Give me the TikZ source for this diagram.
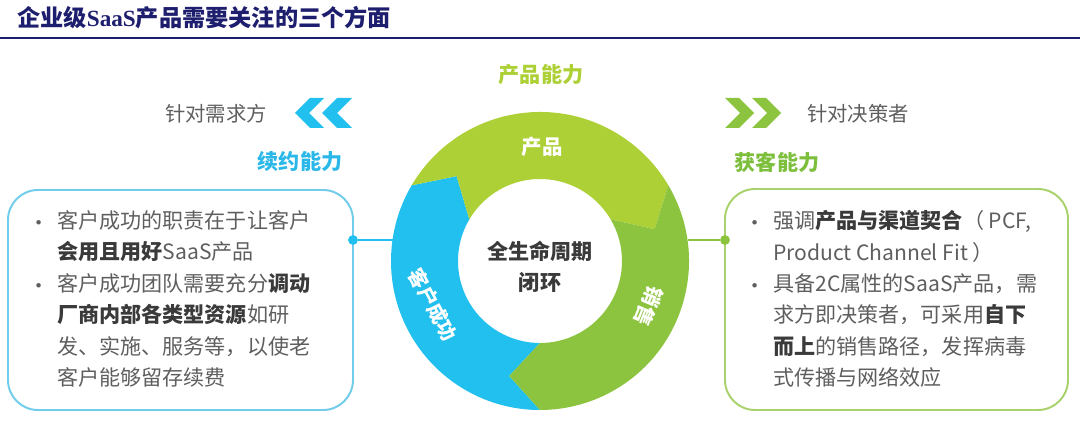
\documentclass[tikz,border=0pt]{standalone}
\usepackage{fontspec}
\setmainfont{Noto Sans CJK SC}
\newfontfamily\latinserif{Liberation Serif}
\newfontfamily\symfont{DejaVu Sans}
\usetikzlibrary{positioning}
\definecolor{navy}{HTML}{1E1E6E}
\definecolor{cblue}{HTML}{22C0EE}
\definecolor{cprod}{HTML}{ADD036}
\definecolor{csale}{HTML}{8CC440}
\definecolor{txt}{HTML}{5E5E5E}
\definecolor{txtb}{HTML}{3A3A3A}
\definecolor{lblue}{HTML}{29B8E8}
\definecolor{lgreen}{HTML}{7DBF3C}
\definecolor{bblue}{HTML}{72CDEA}
\definecolor{bgreen}{HTML}{A9D16C}
\newcommand\hl[1]{{\bfseries\color{txtb}#1}}
\newcommand\bul{\llap{{\symfont\fontsize{11}{11}\selectfont•}\hspace{10pt}}}
% one part of the ring: start angle, end angle, colour
\newcommand\ringseg[3]{%
  \fill[#3] (#1:149) arc[start angle=#1, end angle=#2, radius=149]
    -- (#2-15:119) -- (#2:82) arc[start angle=#2, end angle=#1, radius=82]
    -- (#1-15:119) -- cycle;}

\begin{document}
\begin{tikzpicture}[x=0.25mm,y=-0.25mm]
\tikzstyle{every node}=[inner sep=0pt]
\tikzstyle{lbl}=[font=\fontsize{15}{18}\selectfont\bfseries]
\tikzstyle{note}=[text=txt, font=\fontsize{14.5}{18}\selectfont]
\tikzstyle{ring}=[text=white, font=\fontsize{14.5}{18}\selectfont\bfseries]
\tikzstyle{body}=[anchor=north west, align=left, text=txt, font=\fontsize{15}{22.4}\selectfont]
\tikzstyle{dot}=[circle, minimum size=7pt]
\useasboundingbox (0,0) rectangle (1080,426);

% title
\node (ttl) [anchor=west, text=navy, font=\fontsize{16.5}{18}\selectfont\bfseries] at (17,18)
  {企业级{\latinserif SaaS}产品需要关注的三个方面};
\draw[navy, line width=1.8pt] (0,38) -- (1080,38);

% ring
\begin{scope}[shift={(540,261)}, yscale=-1]
\ringseg{270}{149.5}{cblue}
\ringseg{149.5}{30.5}{cprod}
\ringseg{30.5}{-90}{csale}
\end{scope}
\node (prod) [ring] at (542,147) {产品};
\node (sale) [ring, rotate=-112] at (649,306) {销售};
\node (cust) [ring, rotate=-62, font=\fontsize{14}{18}\selectfont\bfseries] at (433,305) {客户成功};
\node (core) [align=center, text=txtb, font=\fontsize{15}{22}\selectfont\bfseries] at (540,267)
  {全生命周期\\闭环};
\node (pcap) [lbl, text=cprod] at (541,75) {产品能力};

% left side
\fill[cblue] (295,113) -- (310,98) -- (324,98) -- (309,113) -- (324,128) -- (310,128) -- cycle;
\fill[cblue] (322,113) -- (337,98) -- (352,98) -- (337,113) -- (352,128) -- (337,128) -- cycle;
\node (need) [note] at (216,114) {针对需求方};
\node (renew) [lbl, text=lblue] at (300,162) {续约能力};
\draw[bblue, line width=1.4pt, rounded corners=7.5mm] (8,190) rectangle (353,410);
\node (ltext) [body] at (57,210) {\bul 客户成功的职责在于让客户\\
  \hl{会用且用好}SaaS产品\\
  \bul 客户成功团队需要充分\hl{调动}\\
  \hl{厂商内部各类型资源}如研\\
  发、实施、服务等，以使老\\
  客户能够留存续费};
\node (ldot) [dot, fill=cblue] at (353,240) {};
\coordinate (lring) at (393,240);
\draw[cblue, line width=1pt] (ldot) -- (lring);

% right side
\fill[csale] (725,98) -- (739,98) -- (754,113) -- (739,128) -- (725,128) -- (740,113) -- cycle;
\fill[csale] (752,98) -- (766,98) -- (781,113) -- (766,128) -- (752,128) -- (767,113) -- cycle;
\node (dec) [note] at (858,114) {针对决策者};
\node (gain) [lbl, text=lgreen] at (777,162) {获客能力};
\draw[bgreen, line width=1.4pt, rounded corners=7.5mm] (725,189) rectangle (1068,410);
\node (rtext) [body] at (773,210) {\bul 强调\hl{产品与渠道契合}（ PCF,\\
  Product Channel Fit ）\\
  \bul 具备2C属性的SaaS产品，需\\
  求方即决策者，可采用\hl{自下}\\
  \hl{而上}的销售路径，发挥病毒\\
  式传播与网络效应};
\node (rdot) [dot, fill=csale] at (725,240) {};
\coordinate (rring) at (688,240);
\draw[csale, line width=1pt] (rring) -- (rdot);
\end{tikzpicture}
\end{document}
